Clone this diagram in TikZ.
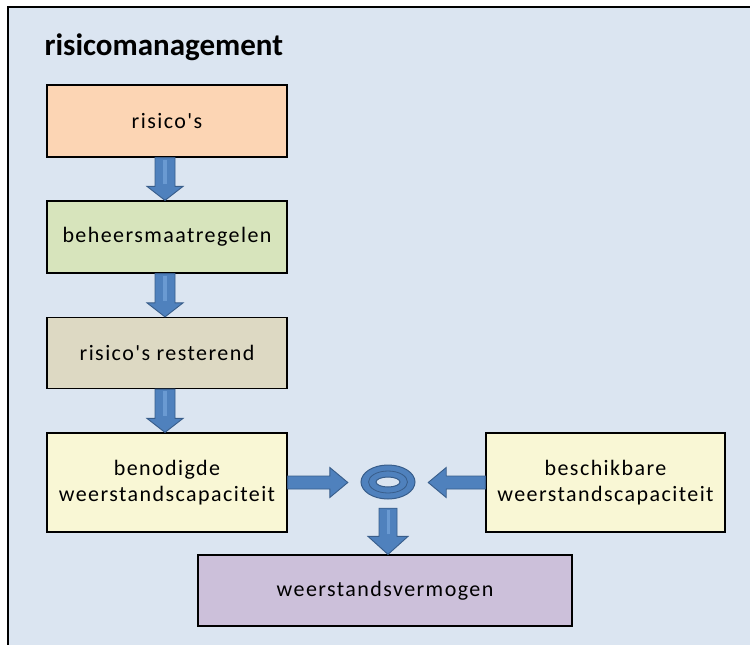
\documentclass[tikz,border=0pt]{standalone}
\usepackage{fontspec}
\setmainfont{Carlito}
\newfontfamily\boxfont[LetterSpace=6.5]{Carlito}
\usetikzlibrary{calc,shapes.geometric}
\definecolor{bgblue}{HTML}{DBE5F1}
\definecolor{peach}{HTML}{FCD5B4}
\definecolor{lgreen}{HTML}{D7E4BC}
\definecolor{tan}{HTML}{DDD9C3}
\definecolor{lyellow}{HTML}{F9F7D5}
\definecolor{lpurple}{HTML}{CCC0DA}
\definecolor{arrfill}{HTML}{4F81BD}
\definecolor{arrdark}{HTML}{385D8A}
\definecolor{arrlight}{HTML}{6A9AD2}
\tikzset{
  box/.style={draw=black, line width=1.2pt, align=center, inner sep=0pt,
    font=\boxfont\fontsize{22}{26}\selectfont, text=black},
  barrow/.style={fill=arrfill, draw=arrdark, line width=0.9pt, line join=miter},
  shine/.style={draw=arrlight, line width=4pt},
}
\begin{document}
\begin{tikzpicture}[x=1pt,y=-1pt]
\useasboundingbox (0,0) rectangle (750,645);
\fill[white] (0,0) rectangle (750,645);
\fill[bgblue] (8,7) rectangle (750,645);
\draw[line width=2pt, black] (750,7) -- (8,7) -- (8,645);

\node[anchor=base west, font=\bfseries\fontsize{31}{36}\selectfont] (title) at (41,55) {risicomanagement};

\node[box, fill=peach, minimum width=240pt, minimum height=72pt] (ris) at (167,121) {risico's};
\node[box, fill=lgreen, minimum width=240pt, minimum height=72pt] (beh) at (167,237) {beheersmaatregelen};
\node[box, fill=tan, minimum width=240pt, minimum height=71pt] (res) at (167,353) {risico's resterend};
\node[box, fill=lyellow, minimum width=240pt, minimum height=99pt] (ben) at (167,482.5) {benodigde\\weerstandscapaciteit};
\node[box, fill=lyellow, minimum width=239pt, minimum height=99pt] (bes) at (605.5,482.5) {beschikbare\\weerstandscapaciteit};
\node[box, fill=lpurple, minimum width=374pt, minimum height=71pt] (wv) at (385,590.5) {weerstandsvermogen};

\node[ellipse, minimum width=54pt, minimum height=34pt, inner sep=0pt] (ring) at (388,482) {};
\coordinate (ringL) at ([xshift=-13pt]ring.west);
\coordinate (ringR) at ([xshift=13pt]ring.east);
\coordinate (ringB) at ([yshift=-9pt]ring.south);

% ring
\fill[arrfill, even odd rule] (ring.center) ellipse [x radius=27pt, y radius=17pt]
  (ring.center) ellipse [x radius=12pt, y radius=5pt];
\draw[arrdark, line width=1pt] (ring.center) ellipse [x radius=27pt, y radius=17pt];
\draw[arrdark, line width=1pt] (ring.center) ellipse [x radius=12pt, y radius=5pt];
\draw[arrdark, line width=0.8pt] (ring.center) ellipse [x radius=19.5pt, y radius=11pt];

% vertical arrows
\foreach \a/\b in {ris/beh, beh/res, res/ben}{
  \draw[barrow] let \p1=([xshift=-2pt]\a.south), \p2=(\b.north) in
    (\x1-10pt,\y1) -- (\x1+10pt,\y1) -- (\x1+10pt,\y2+14pt) -- (\x1+18pt,\y2+14pt)
    -- (\x1,\y2) -- (\x1-18pt,\y2+14pt) -- (\x1-10pt,\y2+14pt) -- cycle;
  \draw[shine] let \p1=([xshift=-2pt]\a.south), \p2=(\b.north) in
    (\x1,\y1-2pt) -- (\x1,\y2+16pt);
}

% horizontal arrows to ring
\draw[barrow] let \p1=(ben.east), \p2=(ringL) in
  (\x1,\y1+6.5pt) -- (\x2-18pt,\y1+6.5pt) -- (\x2-18pt,\y1+15pt) -- (\x2,\y1)
  -- (\x2-18pt,\y1-15pt) -- (\x2-18pt,\y1-6.5pt) -- (\x1,\y1-6.5pt) -- cycle;
\draw[barrow] let \p1=(bes.west), \p2=(ringR) in
  (\x1,\y1+6.5pt) -- (\x2+18pt,\y1+6.5pt) -- (\x2+18pt,\y1+15pt) -- (\x2,\y1)
  -- (\x2+18pt,\y1-15pt) -- (\x2+18pt,\y1-6.5pt) -- (\x1,\y1-6.5pt) -- cycle;

% down arrow to weerstandsvermogen
\draw[barrow] let \p1=(ringB), \p2=(wv.north) in
  (\x1-9pt,\y1) -- (\x1+9pt,\y1) -- (\x1+9pt,\y2+18pt) -- (\x1+20pt,\y2+18pt)
  -- (\x1,\y2) -- (\x1-20pt,\y2+18pt) -- (\x1-9pt,\y2+18pt) -- cycle;
\draw[shine, line width=3pt] let \p1=(ringB), \p2=(wv.north) in
  (\x1,\y1-2pt) -- (\x1,\y2+20pt);
\end{tikzpicture}
\end{document}
